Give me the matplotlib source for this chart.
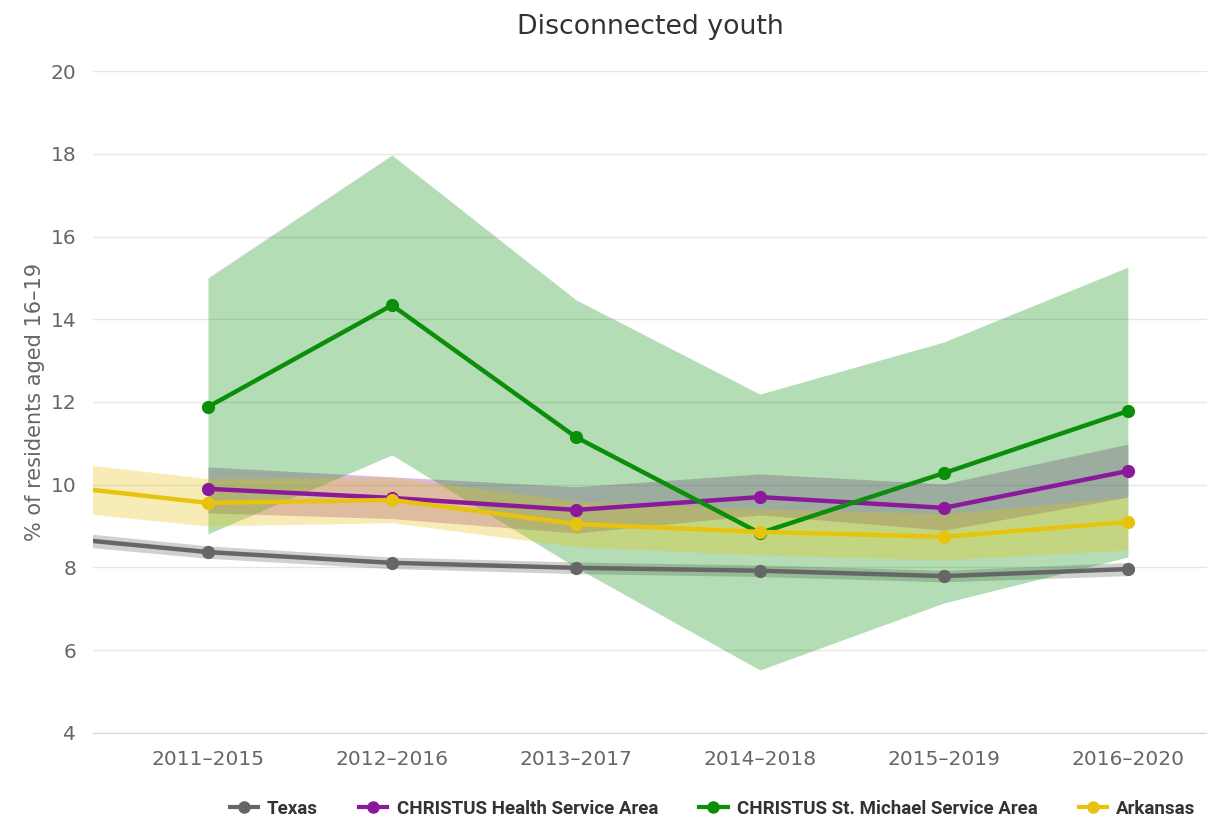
import numpy as np
import matplotlib
matplotlib.use("Agg")
import matplotlib.pyplot as plt

# periods; the first one sits just off the left edge of the plot
periods = ['2010–2014', '2011–2015', '2012–2016', '2013–2017', '2014–2018', '2015–2019', '2016–2020']

texas = [8.80, 8.37, 8.11, 7.99, 7.92, 7.79, 7.96]
texas_lo = [8.63, 8.22, 7.97, 7.85, 7.78, 7.65, 7.80]
texas_hi = [8.97, 8.52, 8.25, 8.13, 8.06, 7.93, 8.12]

christus = [None, 9.90, 9.68, 9.39, 9.70, 9.44, 10.33]
christus_lo = [None, 9.32, 9.18, 8.83, 9.27, 8.90, 9.70]
christus_hi = [None, 10.43, 10.19, 9.95, 10.26, 10.02, 10.98]

michael = [None, 11.88, 14.34, 11.15, 8.83, 10.28, 11.78]
michael_lo = [None, 8.81, 10.72, 8.00, 5.52, 7.14, 8.25]
michael_hi = [None, 15.00, 17.97, 14.47, 12.19, 13.45, 15.26]

arkansas = [10.06, 9.56, 9.63, 9.05, 8.86, 8.74, 9.10]
arkansas_lo = [9.45, 9.00, 9.08, 8.50, 8.30, 8.18, 8.42]
arkansas_hi = [10.65, 10.15, 10.18, 9.60, 9.42, 9.30, 9.70]

series = [
    ('Texas', texas, texas_lo, texas_hi, '#666666'),
    ('CHRISTUS Health Service Area', christus, christus_lo, christus_hi, '#8a1a9b'),
    ('CHRISTUS St. Michael Service Area', michael, michael_lo, michael_hi, '#0b8f0b'),
    ('Arkansas', arkansas, arkansas_lo, arkansas_hi, '#e8c30e'),
]

plt.rcParams['font.family'] = ['DejaVu Sans']

fig = plt.figure(figsize=(12.07, 8.17), dpi=100)
ax = fig.add_axes([0.077, 0.103, 0.923, 0.81])

x = np.arange(len(periods)) - 1
for name, vals, lo, hi, col in series:
    idx = [i for i, v in enumerate(vals) if v is not None]
    xs = x[idx]
    ax.fill_between(xs, [lo[i] for i in idx], [hi[i] for i in idx],
                    color=col, alpha=0.3, lw=0, zorder=2)
for name, vals, lo, hi, col in series:
    idx = [i for i, v in enumerate(vals) if v is not None]
    xs = x[idx]
    ax.plot(xs, [vals[i] for i in idx], color=col, lw=3.2, marker='o', ms=8.5,
            label=name, zorder=3)

ax.set_xlim(-0.625, 5.43)
ax.set_ylim(4, 20)
ax.set_yticks(range(4, 21, 2))
ax.set_xticks(x[1:])
ax.set_xticklabels(periods[1:])
ax.grid(axis='y', color='#e6e6e6', lw=1)
ax.set_axisbelow(True)
for s in ['top', 'right', 'left']:
    ax.spines[s].set_visible(False)
ax.spines['bottom'].set_color('#ccd6eb')
ax.tick_params(axis='both', length=0, labelsize=14.5, colors='#666666')
ax.tick_params(axis='x', pad=12)
ax.tick_params(axis='y', pad=12)

ax.set_ylabel('% of residents aged 16–19', fontsize=15, color='#666666', labelpad=4)
ax.set_title('Disconnected youth', fontsize=19.3, color='#333333', pad=27)

leg = ax.legend(loc='lower right', bbox_to_anchor=(1.0, -0.145), ncol=4, frameon=False,
                borderaxespad=0.2, handlelength=1.5, handletextpad=0.5, columnspacing=2.2,
                prop={'family': ['Roboto', 'DejaVu Sans'],
                      'weight': 'bold', 'size': 13.5})
for t in leg.get_texts():
    t.set_color('#333333')
for h in leg.legend_handles:
    h.set_markersize(8)
    h.set_linewidth(3)

fig.savefig('out.png', dpi=100)
